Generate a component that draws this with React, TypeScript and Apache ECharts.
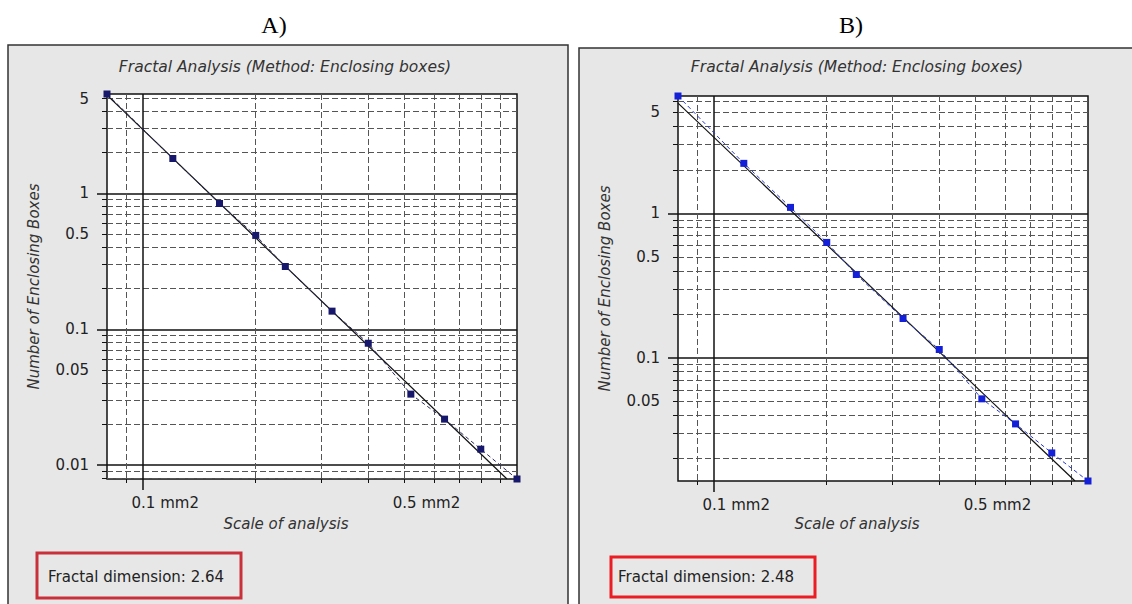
import React, { useEffect, useRef } from 'react';
import * as echarts from 'echarts';

// ---------- data ----------
const panelLabels = ['A)', 'B)'];
const chartTitle = 'Fractal Analysis (Method: Enclosing boxes)';
const xTitle = 'Scale of analysis';
const yTitle = 'Number of Enclosing Boxes';
const dimensionPrefix = 'Fractal dimension: ';
const fractalDims = ['2.64', '2.48'];

const scaleMm2 = [0.08, 0.12, 0.16, 0.2, 0.24, 0.32, 0.4, 0.52, 0.64, 0.8, 1.0];
const boxesA = [5.4, 1.81, 0.844, 0.491, 0.29, 0.136, 0.0789, 0.0333, 0.0218, 0.0131, 0.0079];
const boxesB = [6.5, 2.22, 1.1, 0.629, 0.377, 0.187, 0.114, 0.0519, 0.0348, 0.0219, 0.014];
const fitA = [[0.08, 5.3], [0.94, 0.0079]];
const fitB = [[0.08, 5.8], [0.923, 0.014]];

const xMajorTicks = [0.1];
const xMinorTicks = [0.09, 0.2, 0.3, 0.4, 0.5, 0.6, 0.7, 0.8, 0.9];
const xLabelValues = [0.1, 0.5];
const xUnit = ' mm2';
const yMajorTicks = [0.01, 0.1, 1];
const yMinorTicks = [
  0.008, 0.009,
  0.02, 0.03, 0.04, 0.05, 0.06, 0.07, 0.08, 0.09,
  0.2, 0.3, 0.4, 0.5, 0.6, 0.7, 0.8, 0.9,
  2, 3, 4, 5, 6, 7, 8, 9,
];
const yLabelValues = [0.01, 0.05, 0.1, 0.5, 1, 5];

// ---------- layout / style ----------
const FONT = 'DejaVu Sans';
const layout = [
  {
    grid: { left: 107, top: 94, width: 410, height: 385 },
    panel: { x: 8, y: 45, w: 560, h: 600 },
    tag: { x: 274, y: 25 },
    title: { x: 285, y: 67 },
    box: { x: 37, y: 553, w: 204, h: 45, color: '#c9303a' },
    dimText: { x: 48, y: 577 },
    xNameGap: 37,
    point: '#17176c',
    conn: '#2a2a60',
  },
  {
    grid: { left: 678, top: 96, width: 410, height: 385 },
    panel: { x: 579, y: 48, w: 600, h: 600 },
    tag: { x: 851, y: 25 },
    title: { x: 857, y: 67 },
    box: { x: 611, y: 557, w: 204, h: 40, color: '#ec1c24' },
    dimText: { x: 618, y: 577 },
    xNameGap: 35,
    point: '#1420d8',
    conn: '#2a3ad0',
  },
];

const boxes = [boxesA, boxesB];
const fits = [fitA, fitB];

function buildOption() {
  const grids: any[] = [];
  const xAxes: any[] = [];
  const yAxes: any[] = [];
  const series: any[] = [];
  const graphics: any[] = [];

  layout.forEach((L, i) => {
    const ys = boxes[i];
    const xMin = Math.min(...scaleMm2);
    const xMax = Math.max(...scaleMm2);
    const yMin = Math.min(...ys);
    const yMax = Math.max(...ys);

    grids.push({
      ...L.grid,
      show: true,
      backgroundColor: '#ffffff',
      borderColor: '#111',
      borderWidth: 1.5,
    });

    const xBase = {
      type: 'log',
      gridIndex: i,
      min: xMin,
      max: xMax,
      position: 'bottom',
      axisLine: { show: false },
    };
    // minor x axis
    xAxes.push({
      ...xBase,
      axisTick: { show: true, customValues: xMinorTicks, length: 4, lineStyle: { color: '#111', width: 1 } },
      axisLabel: { show: false },
      splitLine: { show: true, lineStyle: { color: '#555', width: 1, type: [6, 3] } },
    });
    // major x axis
    xAxes.push({
      ...xBase,
      axisTick: { show: true, customValues: xMajorTicks, length: 11, lineStyle: { color: '#111', width: 1.5 } },
      axisLabel: {
        show: true,
        customValues: xLabelValues,
        formatter: (v: number) => `${v}${xUnit}`,
        fontFamily: FONT,
        fontSize: 15,
        color: '#222',
        margin: 16,
        padding: [0, 0, 0, 44],
      },
      splitLine: { show: true, lineStyle: { color: '#111', width: 1.5, type: 'solid' } },
      name: xTitle,
      nameLocation: 'middle',
      nameGap: L.xNameGap,
      nameTextStyle: {
        fontFamily: FONT,
        fontSize: 15,
        fontStyle: 'italic',
        color: '#333',
        padding: [0, 52, 0, 0],
      },
    });

    const yBase = {
      type: 'log',
      gridIndex: i,
      min: yMin,
      max: yMax,
      position: 'left',
      axisLine: { show: false },
    };
    yAxes.push({
      ...yBase,
      axisTick: { show: true, customValues: yMinorTicks, length: 5, lineStyle: { color: '#111', width: 1 } },
      axisLabel: { show: false },
      splitLine: { show: true, lineStyle: { color: '#555', width: 1, type: [6, 3] } },
    });
    yAxes.push({
      ...yBase,
      axisTick: { show: true, customValues: yMajorTicks, length: 10, lineStyle: { color: '#111', width: 1.5 } },
      axisLabel: {
        show: true,
        customValues: yLabelValues,
        formatter: (v: number) => `${v}`,
        fontFamily: FONT,
        fontSize: 15,
        color: '#222',
        margin: 18,
      },
      splitLine: { show: true, lineStyle: { color: '#111', width: 1.5, type: 'solid' } },
      name: yTitle,
      nameLocation: 'middle',
      nameGap: 66,
      nameTextStyle: {
        fontFamily: FONT,
        fontSize: 15,
        fontStyle: 'italic',
        color: '#333',
      },
    });

    series.push({
      type: 'line',
      xAxisIndex: i * 2 + 1,
      yAxisIndex: i * 2 + 1,
      data: fits[i],
      symbol: 'none',
      lineStyle: { color: '#111', width: 1.2 },
      z: 3,
      silent: true,
    });
    series.push({
      type: 'line',
      xAxisIndex: i * 2 + 1,
      yAxisIndex: i * 2 + 1,
      data: scaleMm2.map((x, k) => [x, ys[k]]),
      symbol: 'rect',
      symbolSize: 7,
      itemStyle: { color: L.point },
      lineStyle: { color: L.conn, width: 1, type: [4, 3] },
      z: 4,
      clip: false,
    });

    graphics.push({
      type: 'rect',
      z: -10,
      shape: { x: L.panel.x, y: L.panel.y, width: L.panel.w, height: L.panel.h },
      style: { fill: '#e7e7e7', stroke: '#333', lineWidth: 1.5 },
    });
    graphics.push({
      type: 'text',
      z: 10,
      x: L.tag.x,
      y: L.tag.y,
      style: {
        text: panelLabels[i],
        fontFamily: 'Liberation Serif',
        fontSize: 24,
        fill: '#000',
        align: 'center',
        verticalAlign: 'middle',
      },
    });
    graphics.push({
      type: 'text',
      z: 10,
      x: L.title.x,
      y: L.title.y,
      style: {
        text: chartTitle,
        fontFamily: FONT,
        fontSize: 15.5,
        fontStyle: 'italic',
        fill: '#333',
        align: 'center',
        verticalAlign: 'middle',
      },
    });
    graphics.push({
      type: 'rect',
      z: 10,
      shape: { x: L.box.x, y: L.box.y, width: L.box.w, height: L.box.h },
      style: { fill: 'none', stroke: L.box.color, lineWidth: 3 },
    });
    graphics.push({
      type: 'text',
      z: 10,
      x: L.dimText.x,
      y: L.dimText.y,
      style: {
        text: dimensionPrefix + fractalDims[i],
        fontFamily: FONT,
        fontSize: 15,
        fill: '#222',
        align: 'left',
        verticalAlign: 'middle',
      },
    });
  });

  return {
    animation: false,
    backgroundColor: '#ffffff',
    grid: grids,
    xAxis: xAxes,
    yAxis: yAxes,
    series,
    graphic: { elements: graphics },
  };
}

export default function App() {
  const ref = useRef<HTMLDivElement>(null);
  useEffect(() => {
    if (!ref.current) return;
    const chart = echarts.init(ref.current, undefined, { renderer: 'svg' });
    chart.setOption(buildOption() as any);
    return () => chart.dispose();
  }, []);
  return (
    <div
      ref={ref}
      style={{ position: 'fixed', left: 0, top: 0, width: 1132, height: 604 }}
    />
  );
}
